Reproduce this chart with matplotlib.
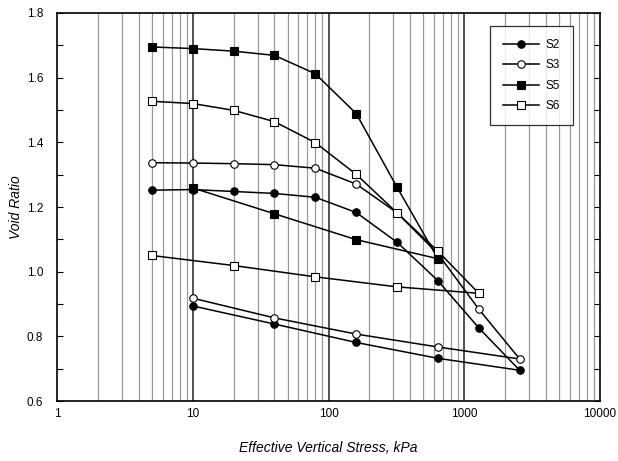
import matplotlib
matplotlib.use("Agg")
import matplotlib.pyplot as plt
from matplotlib.ticker import FixedLocator, NullFormatter, FuncFormatter
import numpy as np

plt.rcParams["font.family"] = ["Liberation Sans", "DejaVu Sans"]

# Oedometer results: loading then unloading branches
s2_stress = [5, 10, 20, 40, 80, 160, 320, 640, 1280, 2560, 640, 160, 40, 10]
s2_void = [1.252, 1.254, 1.248, 1.242, 1.230, 1.183, 1.091, 0.972, 0.826, 0.695,
           0.732, 0.781, 0.838, 0.894]

s3_stress = [5, 10, 20, 40, 80, 160, 320, 640, 1280, 2560, 640, 160, 40, 10]
s3_void = [1.337, 1.336, 1.334, 1.331, 1.320, 1.271, 1.182, 1.055, 0.884, 0.730,
           0.767, 0.807, 0.857, 0.918]

s5_stress = [5, 10, 20, 40, 80, 160, 320, 640, 160, 40, 10]
s5_void = [1.695, 1.690, 1.682, 1.669, 1.612, 1.489, 1.261, 1.040, 1.099, 1.179, 1.259]

s6_stress = [5, 10, 20, 40, 80, 160, 320, 640, 1280, 320, 80, 20, 5]
s6_void = [1.527, 1.520, 1.499, 1.464, 1.399, 1.301, 1.182, 1.063, 0.933,
           0.953, 0.984, 1.019, 1.050]

fig = plt.figure(figsize=(6.18, 4.61), dpi=100)
ax = fig.add_axes([57 / 618, 1 - 401 / 461, (600 - 57) / 618, (401 - 13) / 461])

ax.set_xscale("log")
ax.set_xlim(1, 10000)
ax.set_ylim(0.6, 1.8)

# vertical grid at every minor and major decade position
for dec in [1, 10, 100, 1000]:
    for m in range(2, 10):
        ax.axvline(dec * m, color="#9a9a9a", lw=0.9, zorder=0)
for major in [10, 100, 1000]:
    ax.axvline(major, color="#222222", lw=1.1, zorder=0)

mk = dict(color="black", lw=1.1, markersize=5.4, markeredgewidth=0.8)
ax.plot(s2_stress, s2_void, marker="o", markerfacecolor="black",
        markeredgecolor="black", label="S2", zorder=3, **mk)
ax.plot(s3_stress, s3_void, marker="o", markerfacecolor="white",
        markeredgecolor="black", label="S3", zorder=3, **mk)
ax.plot(s5_stress, s5_void, marker="s", markerfacecolor="black",
        markeredgecolor="black", label="S5", zorder=3, **mk)
ax.plot(s6_stress, s6_void, marker="s", markerfacecolor="white",
        markeredgecolor="black", label="S6", zorder=3, **mk)

x_ticks = [1, 10, 100, 1000, 10000]
x_labels = ["1", "10", "100", "1000", "10000"]
ax.xaxis.set_major_locator(FixedLocator(x_ticks))
ax.set_xticklabels(x_labels)
ax.xaxis.set_minor_locator(FixedLocator([]))
ax.xaxis.set_minor_formatter(NullFormatter())
ax.tick_params(axis="x", which="both", length=0, pad=5, labelsize=8.5)

ax.set_yticks(np.round(np.arange(0.6, 1.81, 0.2), 1))
ax.yaxis.set_major_formatter(FuncFormatter(lambda v, p: f"{v:.1f}"))
ax.yaxis.set_minor_locator(FixedLocator(np.round(np.arange(0.7, 1.8, 0.2), 1)))
ax.tick_params(axis="y", which="both", direction="in", length=4, width=0.8,
               left=True, right=True, labelsize=8.5, pad=10)

for sp in ax.spines.values():
    sp.set_linewidth(1.2)

ax.set_xlabel("Effective Vertical Stress, kPa", style="italic", fontsize=10, labelpad=15)
ax.set_ylabel("Void Ratio", style="italic", fontsize=10)
ax.yaxis.set_label_coords(-0.063, 0.5)

leg = ax.legend(loc="upper right", bbox_to_anchor=(573 / 618, 1 - 26 / 461),
                bbox_transform=fig.transFigure, frameon=True, fancybox=False,
                edgecolor="black", fontsize=8.5, handlelength=3.0,
                borderpad=1.1, labelspacing=0.72, handletextpad=0.6,
                borderaxespad=0)
leg.get_frame().set_linewidth(0.9)

fig.savefig("out.png", dpi=100)
